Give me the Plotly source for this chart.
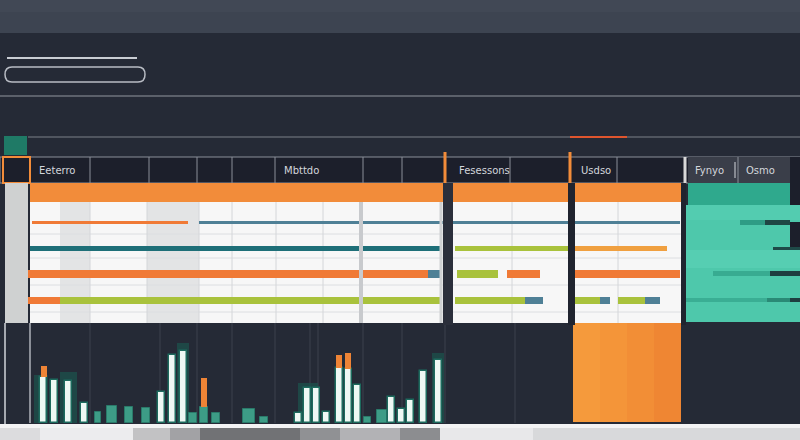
import plotly.graph_objects as go

# header labels of the schedule table (x centre, text)
header_x = [57, 301, 484, 596, 709, 760]
header_text = ["Eeterro", "Mbttdo", "Fesessons", "Usdso", "Fynyo", "Osmo"]

# gantt tasks: row index, start, end, colour
task_row = [0, 0, 1, 1, 1, 2, 2, 2, 2, 2, 3, 3, 3, 3, 3, 3, 3, 3]
task_start = [32, 199, 30, 455, 575, 28, 428, 457, 507, 575, 28, 60, 455, 525, 575, 600, 618, 645]
task_end = [188, 680, 440, 570, 667, 428, 440, 498, 540, 680, 60, 440, 525, 543, 600, 610, 645, 660]
task_color = ["#f07a36", "#4f8096", "#1e6f78", "#a9c23c", "#f0a040",
              "#f07a36", "#4f8096", "#a9c23c", "#f07a36", "#f07a36",
              "#f07a36", "#a9c23c", "#a9c23c", "#4f8096", "#a9c23c",
              "#4f8096", "#a9c23c", "#4f8096"]
row_thickness = [3, 5, 8, 7]

# histogram: light bars
light_x = [43.5, 54, 68, 84, 161.5, 172.5, 183.5, 298.5, 307.5, 316, 326.5,
           339, 348, 357.5, 391.5, 401.5, 410.5, 423, 438.5]
light_h = [46, 43, 42, 20, 31, 68, 72, 10, 35, 35, 11, 55, 54, 38, 26, 14, 23, 52, 63]
# histogram: teal bars
teal_x = [97.5, 112, 129, 146, 193, 203.5, 216, 249, 264, 367.5, 382]
teal_h = [11, 17, 16, 15, 10, 16, 10, 14, 6, 6, 13]
teal_w = [6, 10, 8, 8, 8, 8, 8, 12, 8, 7, 10]
# histogram: orange caps on top of bars
cap_x = [43.5, 203.5, 339, 348]
cap_base = [46, 16, 55, 54]
cap_h = [11, 29, 13, 16]
# dark teal glow behind some bars
glow_x = [41, 68, 183, 308, 438]
glow_w = [14, 17, 12, 20, 12]
glow_h = [48, 51, 80, 40, 70]

BG = "#252a36"
ORANGE = "#f28c3a"

fig = go.Figure()

fig.add_trace(go.Bar(x=glow_x, y=glow_h, width=glow_w, yaxis="y3",
                     marker=dict(color="#1d4f4b", line=dict(width=0)), opacity=0.8))
fig.add_trace(go.Bar(x=teal_x, y=teal_h, width=teal_w, yaxis="y3",
                     marker=dict(color="#3d9c86", line=dict(color="#2a7a6a", width=1))))
fig.add_trace(go.Bar(x=light_x, y=light_h, width=7, yaxis="y3",
                     marker=dict(color="#eef8f4", line=dict(color="#1d6b5e", width=1.5))))
fig.add_trace(go.Bar(x=cap_x, y=cap_h, base=cap_base, width=6, yaxis="y3",
                     marker=dict(color="#ee8436", line=dict(width=0))))

fig.add_trace(go.Bar(
    orientation="h", yaxis="y2",
    y=task_row,
    x=[e - s for s, e in zip(task_start, task_end)],
    base=task_start,
    width=[row_thickness[r] / 26 for r in task_row],
    marker=dict(color=task_color, line=dict(width=0)),
))


def rect(x0, y0, x1, y1, color, layer="below", line=None, **kw):
    fig.add_shape(type="rect", xref="x", yref="y", x0=x0, y0=y0, x1=x1, y1=y1,
                  fillcolor=color, layer=layer,
                  line=line or dict(width=0), **kw)


def vline(x, y0, y1, color, width=1, layer="below"):
    fig.add_shape(type="line", xref="x", yref="y", x0=x, x1=x, y0=y0, y1=y1,
                  line=dict(color=color, width=width), layer=layer)


def hline(y, x0, x1, color, width=1, layer="below"):
    fig.add_shape(type="line", xref="x", yref="y", x0=x0, x1=x1, y0=y, y1=y,
                  line=dict(color=color, width=width), layer=layer)


# top bar and title widgets
rect(0, 0, 800, 33, "#3d4451")
rect(0, 0, 800, 12, "#414855")
hline(58, 7, 137, "#c9cdd3", 2)
fig.add_shape(type="path", xref="x", yref="y", layer="below",
              path="M 12 67 L 138 67 Q 145 67 145 74.5 Q 145 82 138 82 L 12 82 "
                   "Q 5 82 5 74.5 Q 5 67 12 67 Z",
              line=dict(color="#b8bcc4", width=1.5), fillcolor="rgba(0,0,0,0)")
hline(96, 0, 800, "#6e737d", 1.5)
hline(137, 28, 800, "#5f646e", 1.5)
rect(4, 136, 27, 155, "#1f7a66")
hline(137, 570, 627, "#e0552e", 2)

# header row
rect(0, 157, 800, 183, "#1c1f2b", line=dict(color="#8a8f99", width=1))
rect(688, 157, 790, 183, "#3a3e49")
for hx in [90, 149, 197, 232, 275, 363, 402, 510, 617, 738]:
    vline(hx, 157, 183, "#8a8f99", 1)
rect(3, 157, 30, 183, "#1c1f2b", line=dict(color=ORANGE, width=2))
for hx in [445, 570]:
    vline(hx, 152, 200, ORANGE, 3)
vline(685, 157, 183, "#d9d9d9", 3)

# orange / teal band
rect(30, 183, 570, 202, ORANGE)
rect(573, 183, 682, 202, ORANGE)
rect(688, 183, 790, 205, "#2fa98d")
rect(790, 157, 800, 207, "#1c1f2b")

# table panels
rect(30, 202, 443, 323, "#f7f7f7")
rect(453, 202, 568, 323, "#f7f7f7")
rect(575, 202, 681, 323, "#f7f7f7")
rect(60, 202, 90, 323, "#e3e4e5")
rect(147, 202, 199, 323, "#e3e4e5")
for ry in [234, 258, 285, 312]:
    for a, b in [(30, 443), (453, 568), (575, 681)]:
        hline(ry, a, b, "#dcdee1", 1)
for gx in [90, 147, 199, 232, 276, 323, 512, 618]:
    vline(gx, 202, 323, "#d4d6d9", 1)

# right teal panel
rect(685, 205, 800, 322, "#4ec8ab")
for sy0, sy1, sx0, sx1, c in [(205, 220, 685, 800, "#53ccb0"), (250, 268, 685, 800, "#56ceb2"),
                              (220, 225, 740, 765, "#2e9c85"), (220, 225, 765, 790, "#1f4644"),
                              (247, 250, 773, 800, "#1e4a48"),
                              (271, 276, 713, 770, "#38ab91"), (271, 276, 770, 800, "#1e3e40"),
                              (298, 302, 685, 767, "#3aae94"), (298, 302, 767, 790, "#2a8a76"),
                              (298, 302, 790, 800, "#1e3e40")]:
    rect(sx0, sy0, sx1, sy1, c)
rect(790, 222, 800, 247, "#1c1f2b")

# left grey column
rect(5, 183, 28, 323, "#cfd1d1")
vline(5, 323, 425, "#a5a9b0", 2)

# lower dark area grid
for gx in [90, 160, 197, 232, 275, 310, 318, 363, 402, 445, 515]:
    vline(gx, 323, 423, "#3c414d", 1)
vline(30, 323, 423, "#8b8f98", 2)
for a, b, c in [(573, 600, "#f59a3c"), (600, 627, "#f49539"), (627, 654, "#f28e36"),
                (654, 681, "#ef8633")]:
    rect(a, 323, b, 422, c)

# panel dividers drawn over the task bars
rect(443, 183, 453, 325, "#2b2f3b", layer="above")
vline(441, 202, 323, "#cfd1d3", 3, layer="above")
rect(568, 183, 575, 325, "#20242f", layer="above")
rect(681, 183, 686, 325, "#20242f", layer="above")
vline(361, 202, 323, "#c8cacd", 4, layer="above")

# bottom metallic strip
strip = [(0, 40, "#dcdcde"), (40, 133, "#ececee"), (133, 170, "#c2c2c4"), (170, 200, "#a2a2a5"),
         (200, 300, "#717275"), (300, 340, "#909194"), (340, 400, "#b2b2b5"), (400, 440, "#8c8d90"),
         (440, 533, "#e8e8ea"), (533, 800, "#d8d9db")]
for a, b, c in strip:
    rect(a, 428, b, 440, c)
rect(0, 424, 800, 428, "#f3f3f4")

for hx, ht in zip(header_x, header_text):
    fig.add_annotation(x=hx, y=170, xref="x", yref="y", text=ht, showarrow=False,
                       font=dict(family="DejaVu Sans", size=10, color="#d3d6dc"))
vline(735, 162, 178, "#d3d6dc", 1, layer="above")

fig.update_layout(
    width=800, height=440,
    margin=dict(l=0, r=0, t=0, b=0),
    paper_bgcolor=BG, plot_bgcolor=BG,
    showlegend=False, barmode="overlay", bargap=0,
    xaxis=dict(range=[0, 800], visible=False, fixedrange=True),
    yaxis=dict(range=[440, 0], visible=False, fixedrange=True),
    yaxis2=dict(range=[(440 - 222) / 26, -222 / 26], overlaying="y", visible=False),
    yaxis3=dict(range=[-17, 423], overlaying="y", visible=False),
)

fig.write_html("out.html", config={"displayModeBar": False},
               post_script="document.body.style.margin='0';")
